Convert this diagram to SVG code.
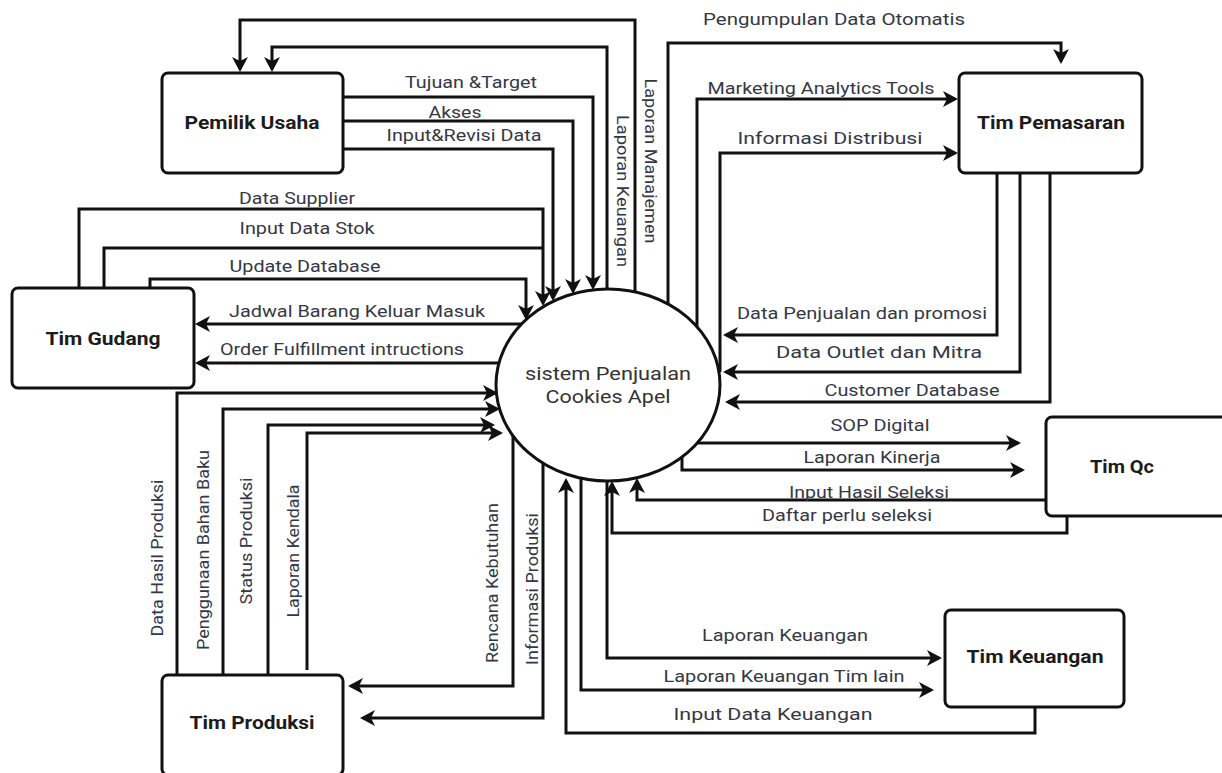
<svg xmlns="http://www.w3.org/2000/svg" width="1222" height="773" viewBox="0 0 1222 773">
<defs>
<marker id="arr" markerUnits="userSpaceOnUse" viewBox="-13 -9 17 18" refX="0" refY="0" markerWidth="17" markerHeight="18" orient="auto">
<path d="M3,0 L-12,-8 L-8,0 L-12,8 Z" fill="#111"/>
</marker>
</defs>
<style>
.box{fill:#fff;stroke:#111;stroke-width:3}
.nt{font-family:Roboto,"Liberation Sans",sans-serif;font-weight:bold;font-size:18px;fill:#1c1c1c;text-anchor:middle;dominant-baseline:central}
.ct{font-family:Roboto,"Liberation Sans",sans-serif;font-size:19px;fill:#333;text-anchor:middle;dominant-baseline:central}
.c{fill:none;stroke:#111;stroke-width:3;stroke-linejoin:miter}
.a{marker-end:url(#arr)}
.lb{font-family:Roboto,"Liberation Sans",sans-serif;font-size:16px;fill:#343846;text-anchor:middle;dominant-baseline:central}
.lb2{font-size:17px}
</style>
<rect width="1222" height="773" fill="#fff"/>

<g id="connectors">
<path class="c a" d="M635,292 V20 H240 V69"/>
<path class="c a" d="M607,289 V47 H272 V69"/>
<path class="c a" d="M343,97 H593 V287"/>
<path class="c a" d="M343,121 H573 V291"/>
<path class="c a" d="M343,149 H553 V298"/>
<path class="c a" d="M79,288 V209 H543 V303"/>
<path class="c" d="M104,288 V248 H543"/>
<path class="c a" d="M150,288 V279 H526 V317"/>
<path class="c a" d="M522,324 H198"/>
<path class="c a" d="M499,363 H198"/>
<path class="c a" d="M177,675 V393 H495"/>
<path class="c a" d="M223,675 V409 H497"/>
<path class="c a" d="M268,675 V425 H492"/>
<path class="c a" d="M307,670 V433 H500"/>
<path class="c a" d="M513,436 V686 H351"/>
<path class="c a" d="M543,463 V718 H363"/>
<path class="c a" d="M1035,707 V733 H566 V481"/>
<path class="c a" d="M581,478 V690 H931"/>
<path class="c a" d="M607,481 V658 H939"/>
<path class="c a" d="M1067,516 V533 H612 V484"/>
<path class="c a" d="M1046,500 H637 V481"/>
<path class="c a" d="M697,443 H1018"/>
<path class="c a" d="M682,457 V470 H1022"/>
<path class="c a" d="M997,173 V335 H726"/>
<path class="c a" d="M1020,173 V372 H726"/>
<path class="c a" d="M1050,173 V402 H728"/>
<path class="c a" d="M668,304 V43 H1061 V61"/>
<path class="c a" d="M697,327 V99 H955"/>
<path class="c a" d="M720,372 V153 H955"/>
</g>

<g id="labels">
<text class="lb lb2" x="834" y="19" textLength="262" lengthAdjust="spacingAndGlyphs">Pengumpulan Data Otomatis</text>
<text class="lb" x="821" y="88" textLength="227" lengthAdjust="spacingAndGlyphs">Marketing Analytics Tools</text>
<text class="lb lb2" x="830" y="138" textLength="185" lengthAdjust="spacingAndGlyphs">Informasi Distribusi</text>
<text class="lb" x="471" y="82" textLength="132" lengthAdjust="spacingAndGlyphs">Tujuan &amp;Target</text>
<text class="lb" x="455" y="112" textLength="53" lengthAdjust="spacingAndGlyphs">Akses</text>
<text class="lb" x="464" y="135" textLength="155" lengthAdjust="spacingAndGlyphs">Input&amp;Revisi Data</text>
<text class="lb" x="622" y="191" transform="rotate(90 622 191)" textLength="152" lengthAdjust="spacingAndGlyphs">Laporan Keuangan</text>
<text class="lb" x="650" y="161" transform="rotate(90 650 161)" textLength="165" lengthAdjust="spacingAndGlyphs">Laporan Manajemen</text>
<text class="lb" x="297" y="198" textLength="116" lengthAdjust="spacingAndGlyphs">Data Supplier</text>
<text class="lb" x="307" y="228" textLength="135" lengthAdjust="spacingAndGlyphs">Input Data Stok</text>
<text class="lb" x="305" y="266" textLength="151" lengthAdjust="spacingAndGlyphs">Update Database</text>
<text class="lb" x="357" y="311" textLength="256" lengthAdjust="spacingAndGlyphs">Jadwal Barang Keluar Masuk</text>
<text class="lb" x="342" y="349" textLength="244" lengthAdjust="spacingAndGlyphs">Order Fulfillment intructions</text>
<text class="lb" x="157" y="558" transform="rotate(-90 157 558)" textLength="157" lengthAdjust="spacingAndGlyphs">Data Hasil Produksi</text>
<text class="lb" x="203" y="550" transform="rotate(-90 203 550)" textLength="200" lengthAdjust="spacingAndGlyphs">Penggunaan Bahan Baku</text>
<text class="lb" x="246" y="541" transform="rotate(-90 246 541)" textLength="127" lengthAdjust="spacingAndGlyphs">Status Produksi</text>
<text class="lb" x="293" y="551" transform="rotate(-90 293 551)" textLength="133" lengthAdjust="spacingAndGlyphs">Laporan Kendala</text>
<text class="lb" x="492" y="583" transform="rotate(-90 492 583)" textLength="160" lengthAdjust="spacingAndGlyphs">Rencana Kebutuhan</text>
<text class="lb" x="532" y="589" transform="rotate(-90 532 589)" textLength="152" lengthAdjust="spacingAndGlyphs">Informasi Produksi</text>
<text class="lb" x="862" y="313" textLength="250" lengthAdjust="spacingAndGlyphs">Data Penjualan dan promosi</text>
<text class="lb lb2" x="879" y="352" textLength="206" lengthAdjust="spacingAndGlyphs">Data Outlet dan Mitra</text>
<text class="lb" x="912" y="390" textLength="175" lengthAdjust="spacingAndGlyphs">Customer Database</text>
<text class="lb" x="880" y="425" textLength="99" lengthAdjust="spacingAndGlyphs">SOP Digital</text>
<text class="lb" x="872" y="457" textLength="137" lengthAdjust="spacingAndGlyphs">Laporan Kinerja</text>
<text class="lb" x="869" y="492" textLength="160" lengthAdjust="spacingAndGlyphs">Input Hasil Seleksi</text>
<text class="lb" x="847" y="515" textLength="170" lengthAdjust="spacingAndGlyphs">Daftar perlu seleksi</text>
<text class="lb" x="785" y="635" textLength="166" lengthAdjust="spacingAndGlyphs">Laporan Keuangan</text>
<text class="lb" x="784" y="676" textLength="241" lengthAdjust="spacingAndGlyphs">Laporan Keuangan Tim lain</text>
<text class="lb lb2" x="773" y="714" textLength="199" lengthAdjust="spacingAndGlyphs">Input Data Keuangan</text>
</g>

<g id="sistem">
<ellipse cx="608" cy="385" rx="112" ry="96" fill="#fff" stroke="#111" stroke-width="3"/>
<text class="ct" x="608" y="373" textLength="166" lengthAdjust="spacingAndGlyphs">sistem Penjualan</text>
<text class="ct" x="608" y="396" textLength="125" lengthAdjust="spacingAndGlyphs">Cookies Apel</text>
</g>
<g id="pemilik-usaha">
<rect class="box" x="162" y="73" width="181" height="100" rx="6"/>
<text class="nt" x="252" y="122" textLength="135" lengthAdjust="spacingAndGlyphs">Pemilik Usaha</text>
</g>
<g id="tim-pemasaran">
<rect class="box" x="959" y="73" width="183" height="100" rx="6"/>
<text class="nt" x="1051" y="122" textLength="148" lengthAdjust="spacingAndGlyphs">Tim Pemasaran</text>
</g>
<g id="tim-gudang">
<rect class="box" x="12" y="288" width="182" height="100" rx="6"/>
<text class="nt" x="103" y="338" textLength="115" lengthAdjust="spacingAndGlyphs">Tim Gudang</text>
</g>
<g id="tim-qc">
<rect class="box" x="1046" y="417" width="183" height="99" rx="6"/>
<text class="nt" x="1122" y="466" textLength="64" lengthAdjust="spacingAndGlyphs">Tim Qc</text>
</g>
<g id="tim-keuangan">
<rect class="box" x="945" y="610" width="179" height="97" rx="6"/>
<text class="nt" x="1035" y="656" textLength="137" lengthAdjust="spacingAndGlyphs">Tim Keuangan</text>
</g>
<g id="tim-produksi">
<rect class="box" x="162" y="675" width="181" height="100" rx="6"/>
<text class="nt" x="252" y="722" textLength="125" lengthAdjust="spacingAndGlyphs">Tim Produksi</text>
</g>
</svg>
